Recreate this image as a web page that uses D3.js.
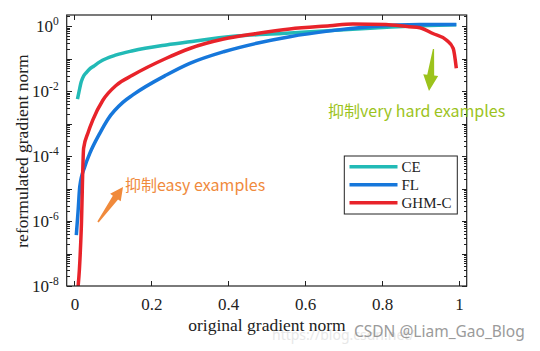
<!DOCTYPE html>
<html lang="en">
<head>
    <meta charset="UTF-8">
    <title>GHM gradient norm</title>
    <script src="https://cdn.jsdelivr.net/npm/d3@7/dist/d3.min.js"></script>
    <style>
        body { margin: 0; background: #fff; }
        .axis path { fill: none; stroke: none; }
        .axis line { stroke: #222; shape-rendering: crispEdges; }
        .axis text, .tickLabel, .axisLabel, .legend text {
            font-family: "Liberation Serif", "Times New Roman", serif;
            fill: #222;
        }
        .axis text { font-size: 17px; }
        .note { font-family: "Noto Sans CJK SC", "Noto Sans", sans-serif; font-size: 16px; }
    </style>
</head>
<body>
<script>
	var width = 540, height = 351;
	var svg = d3.select("body")
		.append("svg")
		.attr("width", width)
		.attr("height", height);

	// 数据：横轴为原始梯度范数，纵轴为重构后的梯度范数
	var ceX = [0.008, 0.012, 0.018, 0.024, 0.031, 0.04, 0.05, 0.066, 0.109, 0.152, 0.239, 0.30, 0.42, 0.54, 0.66, 0.78, 0.90, 0.993];
	var ceY = [0.0056, 0.0095, 0.0195, 0.029, 0.037, 0.048, 0.058, 0.079, 0.129, 0.174, 0.263, 0.331, 0.49, 0.59, 0.72, 0.87, 1.02, 1.10];
	var flX = [0.005, 0.0096, 0.014, 0.027, 0.040, 0.066, 0.088, 0.126, 0.152, 0.239, 0.30, 0.388, 0.474, 0.56, 0.664, 0.768, 0.898, 0.993];
	var flY = [3.7e-7, 2.0e-6, 1.15e-5, 4.7e-5, 1.2e-4, 5.0e-4, 1.41e-3, 4.47e-3, 7.6e-3, 0.031, 0.071, 0.162, 0.295, 0.47, 0.71, 0.95, 1.12, 1.12];
	var ghmX = [0.009, 0.013, 0.018, 0.024, 0.035, 0.048, 0.074, 0.109, 0.152, 0.239, 0.30, 0.388, 0.474, 0.56, 0.664, 0.724, 0.81, 0.87, 0.898, 0.932, 0.967, 0.985, 0.993];
	var ghmY = [7.9e-9, 3.2e-8, 6.3e-7, 1.74e-4, 5.0e-4, 1.29e-3, 5.2e-3, 0.0151, 0.031, 0.102, 0.204, 0.398, 0.589, 0.813, 1.02, 1.15, 1.12, 0.95, 0.89, 0.589, 0.372, 0.204, 0.050];
	var seriesNames = ["CE", "FL", "GHM-C"];
	var seriesColors = ["#22bab6", "#1677db", "#e8232a"];
	var xTicks = [0, 0.2, 0.4, 0.6, 0.8, 1];
	var xTickLabels = ["0", "0.2", "0.4", "0.6", "0.8", "1"];
	var yDecades = [-8, -7, -6, -5, -4, -3, -2, -1, 0];
	var yLabelDecades = [-8, -6, -4, -2, 0];

	var series = [
		{name: seriesNames[0], color: seriesColors[0], x: ceX, y: ceY},
		{name: seriesNames[1], color: seriesColors[1], x: flX, y: flY},
		{name: seriesNames[2], color: seriesColors[2], x: ghmX, y: ghmY}
	];

	var plot = {left: 66.7, right: 466.7, top: 15, bottom: 286};

	var xScale = d3.scaleLinear()
		.domain([-0.02, 1.02])
		.range([plot.left, plot.right]);
	var yScale = d3.scaleLog()
		.domain([1e-8, Math.pow(10, 0.34)])
		.range([plot.bottom, plot.top]);

	// 裁剪
	svg.append("clipPath").attr("id", "clip")
		.append("rect")
		.attr("x", plot.left).attr("y", plot.top)
		.attr("width", plot.right - plot.left)
		.attr("height", plot.bottom - plot.top);

	// 曲线
	var line = d3.line()
		.x(function (d) { return xScale(d[0]); })
		.y(function (d) { return yScale(d[1]); })
		.curve(d3.curveMonotoneX);

	svg.append("g")
		.attr("clip-path", "url(#clip)")
		.selectAll(".curve")
		.data(series)
		.enter()
		.append("path")
		.attr("class", "curve")
		.attr("fill", "none")
		.attr("stroke", function (d) { return d.color; })
		.attr("stroke-width", 3.5)
		.attr("stroke-linejoin", "round")
		.attr("d", function (d) {
			return line(d.x.map(function (v, i) { return [v, d.y[i]]; }));
		});

	// 坐标轴（刻度朝内，四边都有）
	var minorTicks = [];
	yDecades.forEach(function (k) {
		if (k < 0) {
			for (var m = 2; m <= 9; m++) minorTicks.push(m * Math.pow(10, k));
		}
	});
	minorTicks.push(2);
	var majorTicks = yDecades.map(function (k) { return Math.pow(10, k); });

	svg.append("g")
		.attr("class", "axis")
		.attr("transform", "translate(0," + plot.bottom + ")")
		.call(d3.axisBottom(xScale).tickValues(xTicks).tickSizeInner(-5).tickSizeOuter(0).tickPadding(12)
			.tickFormat(function (d, i) { return xTickLabels[i]; }));
	svg.append("g")
		.attr("class", "axis")
		.attr("transform", "translate(0," + plot.top + ")")
		.call(d3.axisTop(xScale).tickValues(xTicks).tickSizeInner(-5).tickSizeOuter(0).tickFormat(""));

	[[plot.left, d3.axisLeft], [plot.right, d3.axisRight]].forEach(function (a) {
		svg.append("g")
			.attr("class", "axis")
			.attr("transform", "translate(" + a[0] + ",0)")
			.call(a[1](yScale).tickValues(majorTicks).tickSizeInner(-5).tickSizeOuter(0).tickFormat(""));
		svg.append("g")
			.attr("class", "axis")
			.attr("transform", "translate(" + a[0] + ",0)")
			.call(a[1](yScale).tickValues(minorTicks).tickSizeInner(-3).tickSizeOuter(0).tickFormat(""));
	});

	// 10^k 标签
	var yLab = svg.selectAll(".tickLabel")
		.data(yLabelDecades)
		.enter()
		.append("text")
		.attr("class", "tickLabel")
		.attr("text-anchor", "end")
		.attr("x", plot.left - 8)
		.attr("y", function (d) { return yScale(Math.pow(10, d)) + 6; });
	yLab.append("tspan").attr("font-size", "17px").text("10");
	yLab.append("tspan").attr("font-size", "11.5px").attr("dy", -7).text(function (d) { return d; });

	// 边框
	svg.append("rect")
		.attr("x", plot.left).attr("y", plot.top)
		.attr("width", plot.right - plot.left)
		.attr("height", plot.bottom - plot.top)
		.attr("fill", "none")
		.attr("stroke", "#222")
		.attr("stroke-width", 1.2);

	// 轴标题
	svg.append("text")
		.attr("class", "axisLabel")
		.attr("x", 267)
		.attr("y", 331)
		.attr("text-anchor", "middle")
		.attr("font-size", "17.5px")
		.text("original gradient norm");
	svg.append("text")
		.attr("class", "axisLabel")
		.attr("transform", "translate(28," + 151 + ") rotate(-90)")
		.attr("text-anchor", "middle")
		.attr("font-size", "17.5px")
		.text("reformulated gradient norm");

	// 图例
	var legend = svg.append("g").attr("class", "legend");
	legend.append("rect")
		.attr("x", 344.3).attr("y", 156)
		.attr("width", 113).attr("height", 58)
		.attr("fill", "#fff")
		.attr("stroke", "#222")
		.attr("stroke-width", 1);
	var items = legend.selectAll(".item")
		.data(series)
		.enter()
		.append("g")
		.attr("class", "item")
		.attr("transform", function (d, i) { return "translate(0," + (166.8 + i * 18) + ")"; });
	items.append("line")
		.attr("x1", 349.5).attr("x2", 397.5)
		.attr("stroke", function (d) { return d.color; })
		.attr("stroke-width", 3.5);
	items.append("text")
		.attr("x", 401.5)
		.attr("y", 5)
		.attr("font-size", "15px")
		.text(function (d) { return d.name; });

	// 注释箭头
	function arrow(x0, y0, x1, y1, headLen, headHalf, tailHalf, baseHalf, color) {
		var dx = x1 - x0, dy = y1 - y0, len = Math.sqrt(dx * dx + dy * dy);
		var ux = dx / len, uy = dy / len, nx = -uy, ny = ux;
		var bx = x1 - ux * headLen, by = y1 - uy * headLen;
		var p = d3.path();
		p.moveTo(x0 + nx * tailHalf, y0 + ny * tailHalf);
		p.lineTo(bx + nx * baseHalf, by + ny * baseHalf);
		p.lineTo(bx + nx * headHalf, by + ny * headHalf);
		p.lineTo(x1, y1);
		p.lineTo(bx - nx * headHalf, by - ny * headHalf);
		p.lineTo(bx - nx * baseHalf, by - ny * baseHalf);
		p.lineTo(x0 - nx * tailHalf, y0 - ny * tailHalf);
		p.closePath();
		svg.append("path").attr("d", p.toString()).attr("fill", color);
	}
	arrow(433.5, 49, 429, 91, 16, 7.5, 0.6, 3.5, "#9cc31c");
	arrow(98, 222, 123, 187, 13, 6.5, 0.8, 3.2, "#f08a3c");

	svg.append("text")
		.attr("class", "note")
		.attr("x", 328)
		.attr("y", 117)
		.attr("fill", "#9cc31c")
		.text("抑制very hard examples");
	svg.append("text")
		.attr("class", "note")
		.attr("x", 125)
		.attr("y", 190.5)
		.attr("fill", "#f08a3c")
		.text("抑制easy examples");

	// 水印
	svg.append("text")
		.attr("x", 272)
		.attr("y", 340)
		.attr("font-family", "'Noto Sans', sans-serif")
		.attr("font-size", "14px")
		.attr("fill", "#ccc")
		.attr("opacity", 0.45)
		.text("https://blog.csdn.net/");
	svg.append("text")
		.attr("x", 354)
		.attr("y", 337)
		.attr("font-family", "'Noto Sans', sans-serif")
		.attr("font-size", "15.5px")
		.attr("fill", "#8a8a8a")
		.attr("opacity", 0.85)
		.text("CSDN @Liam_Gao_Blog");
</script>
</body>
</html>
